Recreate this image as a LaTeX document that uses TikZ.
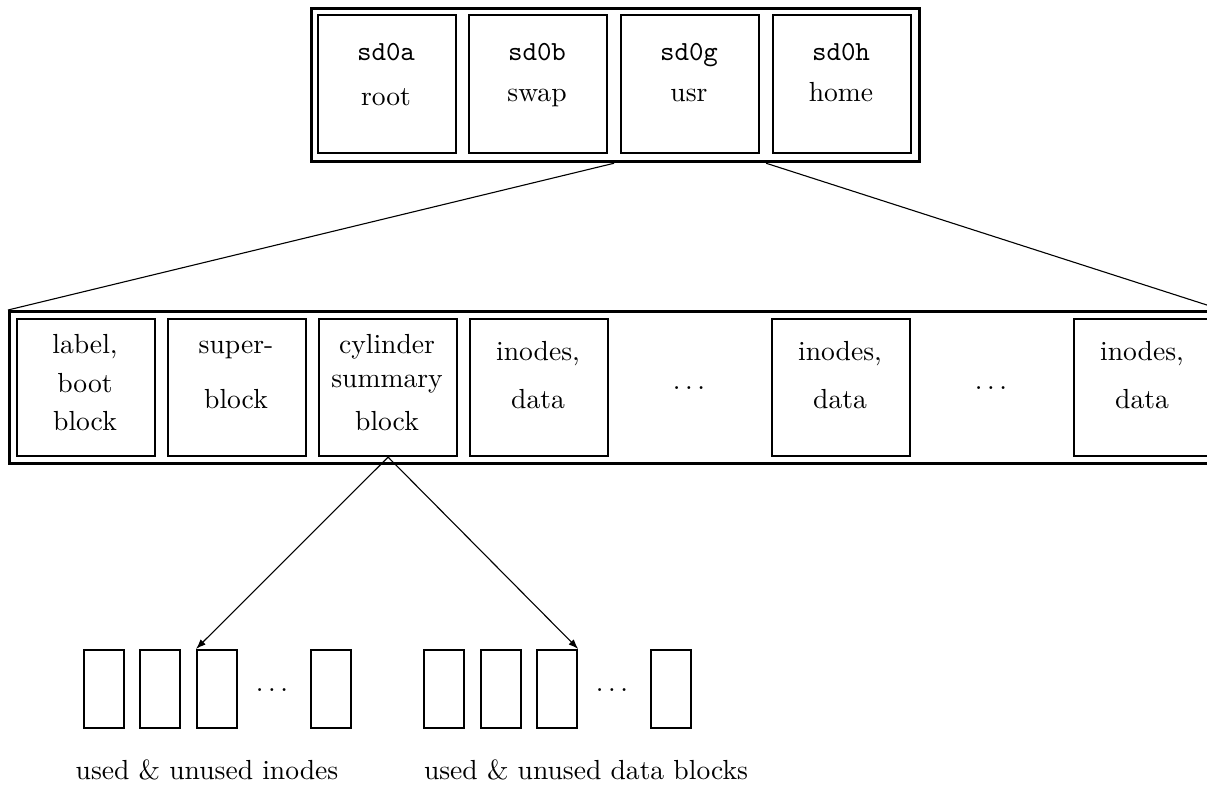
\documentclass[tikz,border=0pt]{standalone}
\usetikzlibrary{arrows.meta}
\newcommand{\mydots}{.\kern\fontdimen3\font.\kern\fontdimen3\font.}
\begin{document}
\begin{tikzpicture}[x=0.3623pt,y=-0.3623pt,
  outerbox/.style={draw,line width=1.2pt,inner sep=0pt,anchor=north west},
  partbox/.style={draw,line width=0.8pt,inner sep=0pt,anchor=north west,minimum width=50pt,minimum height=50pt},
  cellbox/.style={draw,line width=0.8pt,inner sep=0pt,anchor=north west,minimum width=14.5pt,minimum height=28.3pt},
  txt/.style={anchor=base,inner sep=0pt,font=\fontsize{10}{12}\selectfont},
  thinline/.style={line width=0.4pt},
  arr/.style={line width=0.4pt,-{Latex[length=3.6pt,width=2.6pt]}}]
\useasboundingbox (0,0) rectangle (1207,795);
\clip (0,0) rectangle (1207,795);
% top disk
\node[outerbox,minimum width=220.3pt,minimum height=55.4pt] (disk) at (310,7) {};
\node[partbox] (sda) at (317,14) {};
\node[partbox] (sdb) at (468,14) {};
\node[partbox] (sdg) at (620,14) {};
\node[partbox] (sdh) at (772,14) {};
\node[txt] (ta1) at (386,60) {\texttt{sd0a}};
\node[txt] (ta2) at (386,105) {root};
\node[txt] (tb1) at (537,60) {\texttt{sd0b}};
\node[txt] (tb2) at (537,101) {swap};
\node[txt] (tg1) at (689,60) {\texttt{sd0g}};
\node[txt] (tg2) at (689,101) {usr};
\node[txt] (th1) at (841,60) {\texttt{sd0h}};
\node[txt] (th2) at (841,101) {home};
% file system
\node[outerbox,minimum width=438.8pt,minimum height=55.1pt] (fs) at (8,310) {};
\node[partbox,minimum height=49.6pt] (lab) at (16,318) {};
\node[partbox,minimum height=49.6pt] (sup) at (167,318) {};
\node[partbox,minimum height=49.6pt] (cyl) at (318,318) {};
\node[partbox,minimum height=49.6pt] (ino1) at (469,318) {};
\node[partbox,minimum height=49.6pt] (ino2) at (771,318) {};
\node[partbox,minimum height=49.6pt] (ino3) at (1073,318) {};
\node[txt] (l1) at (85,353) {label,};
\node[txt] (l2) at (85,392) {boot};
\node[txt] (l3) at (85,430) {block};
\node[txt] (s1) at (236,353) {super-};
\node[txt] (s2) at (236,408) {block};
\node[txt] (c1) at (387,353) {cylinder};
\node[txt] (c2) at (387,387) {summary};
\node[txt] (c3) at (387,430) {block};
\node[txt] (i11) at (538,360) {inodes,};
\node[txt] (i12) at (538,408) {data};
\node[txt] (d1) at (689,389) {\mydots};
\node[txt] (i21) at (840,360) {inodes,};
\node[txt] (i22) at (840,408) {data};
\node[txt] (d2) at (991,389) {\mydots};
\node[txt] (i31) at (1142,360) {inodes,};
\node[txt] (i32) at (1142,408) {data};
% connectors from disk to fs
\path (sdb.south east) -- (sdg.south west) coordinate[pos=0.5] (m1);
\path (sdg.south east) -- (sdh.south west) coordinate[pos=0.5] (m2);
\draw[thinline] (m1 |- disk.south) -- (fs.north west);
\draw[thinline] (m2 |- disk.south) -- (fs.north east);
% cells
\node[cellbox] (u1) at (83,649) {};
\node[cellbox] (u2) at (139,649) {};
\node[cellbox] (u3) at (196,649) {};
\node[txt] (ud) at (272,691) {\mydots};
\node[cellbox] (u4) at (310,649) {};
\node[cellbox] (v1) at (423,649) {};
\node[cellbox] (v2) at (480,649) {};
\node[cellbox] (v3) at (536,649) {};
\node[txt] (vd) at (612,691) {\mydots};
\node[cellbox] (v4) at (650,649) {};
\draw[arr] (cyl.south) -- (u3.north west);
\draw[arr] (cyl.south) -- (v3.north east);
\node[txt] (ul) at (207,779) {used \& unused inodes};
\node[txt] (vl) at (586,779) {used \& unused data blocks};
\end{tikzpicture}
\end{document}
